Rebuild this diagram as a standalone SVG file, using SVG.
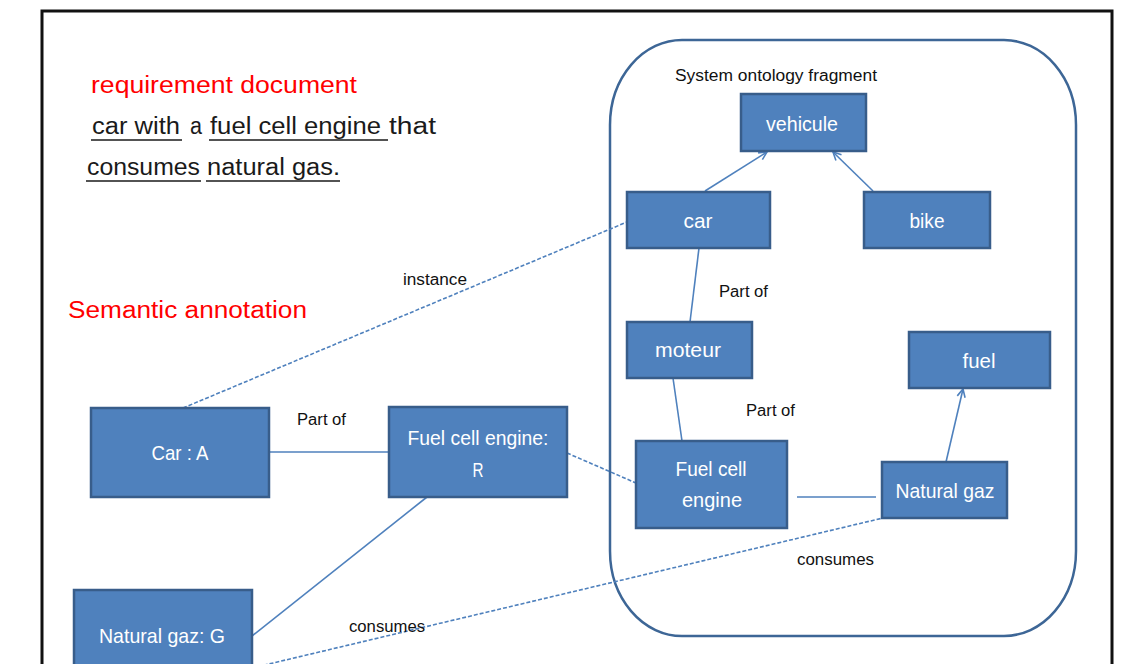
<svg xmlns="http://www.w3.org/2000/svg" width="1135" height="664" viewBox="0 0 1135 664">
<defs>
<style>
.box{fill:#4f81bd;stroke:#385d8a;stroke-width:2.5}
.nt{font-family:"Liberation Sans",Arial,sans-serif;font-size:21px;fill:#ffffff;text-anchor:middle}
.lbl{font-family:"Liberation Sans",Arial,sans-serif;font-size:16px;fill:#111111}
.big{font-family:"Liberation Sans",Arial,sans-serif;font-size:23px}
.red{fill:#ff0000}
.blk{fill:#1a1a1a}
.ln{stroke:#4f81bd;stroke-width:1.6;fill:none}
.dash{stroke:#4f81bd;stroke-width:1.6;fill:none;stroke-dasharray:4 2}
.ul{stroke:#1a1a1a;stroke-width:1.5}
</style>
<marker id="arr" viewBox="0 0 10 10" refX="9" refY="5" markerWidth="10" markerHeight="10" markerUnits="userSpaceOnUse" orient="auto">
<path d="M1,1 L9,5 L1,9" fill="none" stroke="#4f81bd" stroke-width="1.6"/>
</marker>
</defs>
<rect width="1135" height="664" fill="#ffffff"/>
<rect x="42" y="11" width="1070" height="680" fill="none" stroke="#111111" stroke-width="3"/>

<g id="texts">
<text class="big red" x="91" y="93" textLength="266" lengthAdjust="spacingAndGlyphs">requirement document</text>
<text class="big blk" x="92" y="134" textLength="88" lengthAdjust="spacingAndGlyphs">car with</text>
<text class="big blk" x="190" y="134" textLength="12" lengthAdjust="spacingAndGlyphs">a</text>
<text class="big blk" x="210" y="134" textLength="171" lengthAdjust="spacingAndGlyphs">fuel cell engine</text>
<text class="big blk" x="389" y="134" textLength="47" lengthAdjust="spacingAndGlyphs">that</text>
<text class="big blk" x="87" y="175" textLength="113" lengthAdjust="spacingAndGlyphs">consumes</text>
<text class="big blk" x="207" y="175" textLength="133" lengthAdjust="spacingAndGlyphs">natural gas.</text>
<line class="ul" x1="91" y1="140" x2="182" y2="140"/>
<line class="ul" x1="209" y1="140" x2="388" y2="140"/>
<line class="ul" x1="86" y1="181" x2="201" y2="181"/>
<line class="ul" x1="206" y1="181" x2="340" y2="181"/>
<text class="big red" x="68" y="318" textLength="239" lengthAdjust="spacingAndGlyphs">Semantic annotation</text>
</g>

<g id="ontology">
<rect x="610" y="40" width="466" height="596" rx="72" ry="85" fill="none" stroke="#3d6696" stroke-width="2.5"/>
<text class="lbl" x="675" y="81" textLength="202" lengthAdjust="spacingAndGlyphs">System ontology fragment</text>
</g>

<g id="connectors">
<line class="ln" x1="705" y1="191" x2="767" y2="152" marker-end="url(#arr)"/>
<line class="ln" x1="873" y1="191" x2="833" y2="152" marker-end="url(#arr)"/>
<line class="ln" x1="699" y1="248" x2="690" y2="322"/>
<line class="ln" x1="673" y1="378" x2="682" y2="441"/>
<line class="ln" x1="797" y1="497" x2="876" y2="497"/>
<line class="ln" x1="946" y1="462" x2="963" y2="389" marker-end="url(#arr)"/>
<line class="dash" x1="183" y1="408" x2="627" y2="222"/>
<line class="ln" x1="269" y1="452" x2="389" y2="452"/>
<line class="ln" x1="427" y1="497" x2="252" y2="636"/>
<line class="dash" x1="567" y1="453" x2="636" y2="483"/>
<line class="dash" x1="252" y1="668" x2="883" y2="518"/>
<text class="lbl" x="403" y="285" textLength="64" lengthAdjust="spacingAndGlyphs">instance</text>
<text class="lbl" x="719" y="297" textLength="49" lengthAdjust="spacingAndGlyphs">Part of</text>
<text class="lbl" x="746" y="416" textLength="49" lengthAdjust="spacingAndGlyphs">Part of</text>
<text class="lbl" x="297" y="425" textLength="49" lengthAdjust="spacingAndGlyphs">Part of</text>
<text class="lbl" x="797" y="565" textLength="77" lengthAdjust="spacingAndGlyphs">consumes</text>
<text class="lbl" x="349" y="632" textLength="76" lengthAdjust="spacingAndGlyphs">consumes</text>
</g>

<g id="vehicule"><rect class="box" x="741" y="94" width="125" height="57"/><text class="nt" x="802" y="131" textLength="72" lengthAdjust="spacingAndGlyphs">vehicule</text></g>
<g id="car"><rect class="box" x="627" y="192" width="143" height="56"/><text class="nt" x="698" y="228" textLength="29" lengthAdjust="spacingAndGlyphs">car</text></g>
<g id="bike"><rect class="box" x="864" y="192" width="126" height="56"/><text class="nt" x="927" y="228" textLength="35" lengthAdjust="spacingAndGlyphs">bike</text></g>
<g id="moteur"><rect class="box" x="627" y="322" width="125" height="56"/><text class="nt" x="688" y="357" textLength="66" lengthAdjust="spacingAndGlyphs">moteur</text></g>
<g id="fuel"><rect class="box" x="909" y="332" width="141" height="56"/><text class="nt" x="979" y="368" textLength="33" lengthAdjust="spacingAndGlyphs">fuel</text></g>
<g id="fce"><rect class="box" x="636" y="441" width="151" height="87"/><text class="nt" x="711" y="476" textLength="71" lengthAdjust="spacingAndGlyphs">Fuel cell</text><text class="nt" x="712" y="507" textLength="60" lengthAdjust="spacingAndGlyphs">engine</text></g>
<g id="naturalgaz"><rect class="box" x="882" y="462" width="125" height="56"/><text class="nt" x="945" y="498" textLength="99" lengthAdjust="spacingAndGlyphs">Natural gaz</text></g>
<g id="carA"><rect class="box" x="91" y="408" width="178" height="89"/><text class="nt" x="180" y="460" textLength="57" lengthAdjust="spacingAndGlyphs">Car : A</text></g>
<g id="fceR"><rect class="box" x="389" y="407" width="178" height="90"/><text class="nt" x="478" y="445" textLength="141" lengthAdjust="spacingAndGlyphs">Fuel cell engine:</text><text class="nt" x="478" y="477" textLength="11" lengthAdjust="spacingAndGlyphs">R</text></g>
<g id="gazG"><rect class="box" x="74" y="590" width="178" height="100"/><text class="nt" x="162" y="643" textLength="126" lengthAdjust="spacingAndGlyphs">Natural gaz: G</text></g>
</svg>
